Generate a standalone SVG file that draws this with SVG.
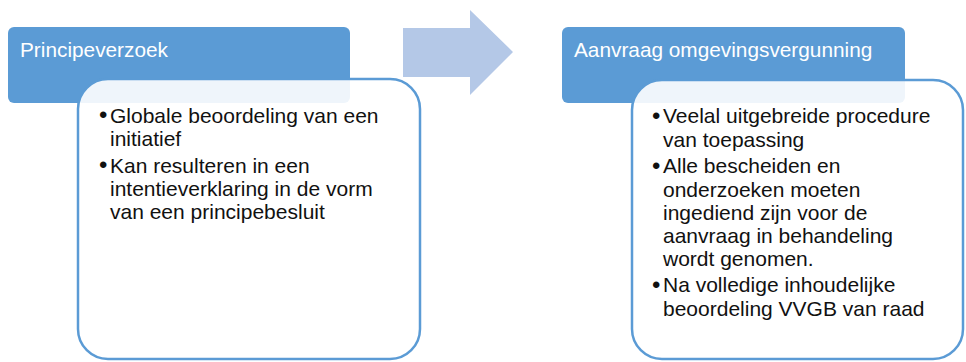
<svg xmlns="http://www.w3.org/2000/svg" width="966" height="362" viewBox="0 0 966 362">
<style>
.hdr{fill:#5B9BD5}
.htxt{font-family:"Liberation Sans",Arial,sans-serif;font-size:20.8px;fill:#ffffff}
.box{fill:#ffffff;fill-opacity:0.9;stroke:#5B9BD5;stroke-width:2.5}
.btxt{font-family:"Liberation Sans",Arial,sans-serif;font-size:21px;fill:#111111}
.bul{font-family:"Liberation Sans",Arial,sans-serif;font-size:24px;fill:#111111}
.arrow{fill:#B4C8E7}
</style>
<rect width="966" height="362" fill="#ffffff"/>
<g id="principeverzoek">
<rect class="hdr" x="8" y="27" width="342" height="76" rx="6"/>
<text class="htxt" x="20" y="57">Principeverzoek</text>
<rect class="box" x="78" y="79" width="342" height="280" rx="30"/>
<text class="bul" x="99" y="123">•</text>
<text class="btxt" x="110" y="122.5">Globale beoordeling van een</text>
<text class="btxt" x="110" y="146">initiatief</text>
<text class="bul" x="99" y="173">•</text>
<text class="btxt" x="110" y="172.5">Kan resulteren in een</text>
<text class="btxt" x="110" y="196">intentieverklaring in de vorm</text>
<text class="btxt" x="110" y="219">van een principebesluit</text>
</g>
<g id="connectors">
<polygon class="arrow" points="403,28 470,28 470,10 513,52 470,95 470,77 403,77"/>
</g>
<g id="aanvraag">
<rect class="hdr" x="562" y="27" width="343" height="76" rx="6"/>
<text class="htxt" x="574" y="57">Aanvraag omgevingsvergunning</text>
<rect class="box" x="632" y="80" width="331" height="279" rx="30"/>
<text class="bul" x="652" y="123.5">•</text>
<text class="btxt" x="663" y="123">Veelal uitgebreide procedure</text>
<text class="btxt" x="663" y="146.5">van toepassing</text>
<text class="bul" x="652" y="173.5">•</text>
<text class="btxt" x="663" y="173">Alle bescheiden en</text>
<text class="btxt" x="663" y="196.5">onderzoeken moeten</text>
<text class="btxt" x="663" y="219.5">ingediend zijn voor de</text>
<text class="btxt" x="663" y="242.5">aanvraag in behandeling</text>
<text class="btxt" x="663" y="265.5">wordt genomen.</text>
<text class="bul" x="652" y="292.5">•</text>
<text class="btxt" x="663" y="292">Na volledige inhoudelijke</text>
<text class="btxt" x="663" y="315.5">beoordeling VVGB van raad</text>
</g>
</svg>
